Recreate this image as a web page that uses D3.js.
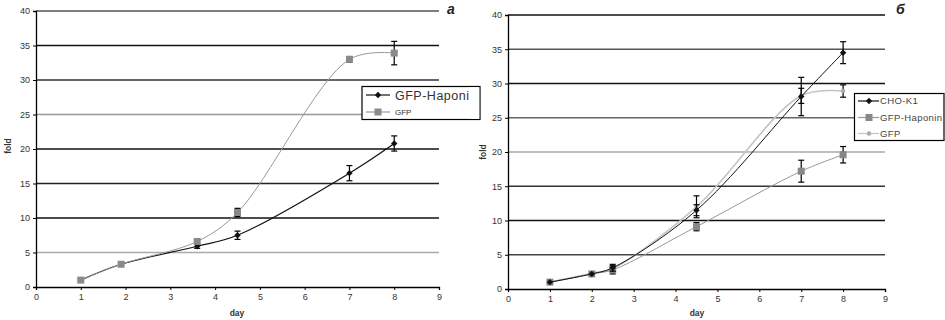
<!DOCTYPE html>
<html><head><meta charset="utf-8">
<script src="https://cdn.jsdelivr.net/npm/d3@7"></script>
<style>body{margin:0;background:#fff}svg{display:block;font-family:"Liberation Sans",Arial,sans-serif}</style>
</head><body>
<svg id="c" width="945" height="320"></svg>
<script>
// ---------- data ----------
const xTicks = [0,1,2,3,4,5,6,7,8,9];
const yTicks = [0,5,10,15,20,25,30,35,40];

// panel a
const aDays = [1, 1.9, 3.6, 4.5, 7, 8];
const aHaponin = [1, 3.3, 5.9, 7.5, 16.5, 20.8];
const aHaponinErr = [0, 0, 0.3, 0.6, 1.1, 1.1];
const aGFP = [1, 3.3, 6.6, 10.8, 33.0, 33.9];
const aGFPErr = [0, 0, 0.3, 0.6, 0.4, 1.7];
const aSeriesNames = ["GFP-Haponin", "GFP"];

// panel b
const bDays = [1, 2, 2.5, 4.5, 7, 8];
const bCHO = [1, 2.2, 3.1, 11.5, 28.1, 34.5];
const bCHOErr = [0, 0, 0.5, 0.8, 2.8, 1.6];
const bHaponin = [1, 2.2, 2.8, 9.1, 17.2, 19.6];
const bHaponinErr = [0, 0, 0.6, 0.6, 1.6, 1.2];
const bGFP = [1, 2.3, 3.0, 12.0, 28.2, 28.9];
const bGFPErr = [0, 0, 0.3, 1.6, 1.1, 0.9];
const bSeriesNames = ["CHO-K1", "GFP-Haponin", "GFP"];

// ---------- styles ----------
const gridColA = {0:"#000",5:"#aaa",10:"#111",15:"#222",20:"#111",25:"#999",30:"#333",35:"#111",40:"#555"};
const gridColB = {0:"#000",5:"#444",10:"#111",15:"#333",20:"#aaa",25:"#666",30:"#111",35:"#555",40:"#111"};

const svg = d3.select("#c");
const curve = d3.curveCatmullRom.alpha(0.5);

function panel(cfg){
  const x = d3.scaleLinear().domain([0,9]).range([cfg.x0, cfg.x1]);
  const y = d3.scaleLinear().domain([0,40]).range([cfg.y0, cfg.y1]);
  const g = svg.append("g");
  g.selectAll("line.grid").data(yTicks.filter(d=>d>0)).enter().append("line")
    .attr("x1", x(0)).attr("x2", x(9)).attr("y1", d=>y(d)).attr("y2", d=>y(d))
    .attr("stroke", d=>cfg.grid[d]).attr("stroke-width", 1.3);
  const ax = g.append("g").attr("transform",`translate(0,${y(0)})`)
    .call(d3.axisBottom(x).tickValues(xTicks).tickSize(3).tickPadding(4).tickFormat(d3.format("d")));
  const ay = g.append("g").attr("transform",`translate(${x(0)},0)`)
    .call(d3.axisLeft(y).tickValues(yTicks).tickSize(3).tickPadding(3).tickFormat(d3.format("d")));
  [ax,ay].forEach(a=>{
    a.select(".domain").attr("stroke","#000").attr("stroke-width",1.3);
    a.selectAll(".tick line").attr("stroke","#000");
    a.selectAll(".tick text").attr("fill","#333").attr("font-size",9).attr("font-family","Liberation Sans, Arial");
  });
  g.append("text").attr("x", cfg.dayX).attr("y", 316).attr("text-anchor","middle")
    .attr("font-size",8.5).attr("font-weight","bold").attr("fill","#333").text("day");
  g.append("text").attr("transform",`translate(${cfg.foldX},${cfg.foldY}) rotate(-90)`).attr("text-anchor","middle")
    .attr("font-size",8.5).attr("font-weight","bold").attr("fill","#333").text("fold");
  g.append("text").attr("x", cfg.letterX).attr("y", 14).attr("font-size",14).attr("font-weight","bold")
    .attr("font-style","italic").attr("fill","#222").text(cfg.letter);

  cfg.series.forEach(s=>{
    const pts = cfg.days.map((d,i)=>({x:d, y:s.vals[i], e:s.err[i]}));
    g.append("path").datum(pts).attr("fill","none").attr("stroke",s.color).attr("stroke-width",s.w||1)
      .attr("d", d3.line().x(d=>x(d.x)).y(d=>y(d.y)).curve(curve));
    const eb = g.append("g");
    pts.filter(p=>p.e>0).forEach(p=>{
      eb.append("line").attr("x1",x(p.x)).attr("x2",x(p.x)).attr("y1",y(p.y+p.e)).attr("y2",y(p.y-p.e)).attr("stroke","#000").attr("stroke-width",1.2);
      [p.y+p.e,p.y-p.e].forEach(v=>eb.append("line").attr("x1",x(p.x)-3).attr("x2",x(p.x)+3).attr("y1",y(v)).attr("y2",y(v)).attr("stroke","#000").attr("stroke-width",1.2));
    });
    pts.forEach(p=>drawMarker(g, s.marker, x(p.x), y(p.y), s.mcolor||s.color));
  });
  return {x,y,g};
}

function drawMarker(g, type, cx, cy, color){
  if(type==="diamond"){
    g.append("path").attr("d",`M${cx},${cy-3.2}L${cx+3.2},${cy}L${cx},${cy+3.2}L${cx-3.2},${cy}Z`).attr("fill",color);
  } else if(type==="square"){
    g.append("rect").attr("x",cx-3.5).attr("y",cy-3.5).attr("width",7).attr("height",7).attr("fill",color);
  } else if(type==="small"){
    g.append("circle").attr("cx",cx).attr("cy",cy).attr("r",2.2).attr("fill",color);
  }
}

// ---------- panel a ----------
panel({x0:36, x1:439, y0:287, y1:11, grid:gridColA, dayX:237, foldX:11, foldY:146, letterX:447, letter:"а",
  days:aDays,
  series:[
    {vals:aHaponin, err:aHaponinErr, color:"#111", marker:"diamond", w:1.2},
    {vals:aGFP, err:aGFPErr, color:"#999", marker:"square", mcolor:"#8a8a8a", w:1}
  ]});

// ---------- panel b ----------
panel({x0:508, x1:885, y0:289, y1:15, grid:gridColB, dayX:697, foldX:486, foldY:152, letterX:896, letter:"б",
  days:bDays,
  series:[
    {vals:bGFP, err:bGFPErr, color:"#c4c4c4", marker:"small", mcolor:"#aaa", w:1.6},
    {vals:bHaponin, err:bHaponinErr, color:"#999", marker:"square", mcolor:"#888", w:1},
    {vals:bCHO, err:bCHOErr, color:"#111", marker:"diamond", w:1}
  ]});

// ---------- legends ----------
const legA = svg.append("g");
legA.append("rect").attr("x",362).attr("y",86.5).attr("width",118).attr("height",33).attr("fill","#fff").attr("stroke","#000").attr("stroke-width",1.2);
const legAItems = [{name:aSeriesNames[0], color:"#111", marker:"diamond", fs:12.5, ls:0.5, y:95},
                   {name:aSeriesNames[1], color:"#999", mcolor:"#8a8a8a", marker:"square", fs:8, ls:0, y:112}];
legAItems.forEach(it=>{
  legA.append("line").attr("x1",366).attr("x2",390).attr("y1",it.y).attr("y2",it.y).attr("stroke",it.color).attr("stroke-width",1.2);
  drawMarker(legA, it.marker, 378, it.y, it.mcolor||it.color);
  legA.append("text").attr("x",395).attr("y",it.y+it.fs*0.36).attr("font-size",it.fs).attr("fill","#333")
    .attr("letter-spacing", it.ls).text(it.name);
});
// right part of the legend is covered by the second figure's white background
legA.append("rect").attr("x",469).attr("y",87.2).attr("width",10.2).attr("height",31.6).attr("fill","#fff");

const legB = svg.append("g");
legB.append("rect").attr("x",854.5).attr("y",93.5).attr("width",89.5).attr("height",47).attr("fill","#fff").attr("stroke","#000").attr("stroke-width",1.2);
const legBItems = [{name:bSeriesNames[0], color:"#111", marker:"diamond", y:101},
                   {name:bSeriesNames[1], color:"#999", mcolor:"#888", marker:"square", y:117.5},
                   {name:bSeriesNames[2], color:"#c4c4c4", mcolor:"#aaa", marker:"small", y:133.5}];
legBItems.forEach(it=>{
  legB.append("line").attr("x1",858).attr("x2",879).attr("y1",it.y).attr("y2",it.y).attr("stroke",it.color).attr("stroke-width",1.2);
  drawMarker(legB, it.marker, 869, it.y, it.mcolor||it.color);
  legB.append("text").attr("x",880).attr("y",it.y+3.3).attr("font-size",9.5).attr("fill","#444")
    .attr("letter-spacing",0.4).text(it.name);
});
</script>
</body></html>
